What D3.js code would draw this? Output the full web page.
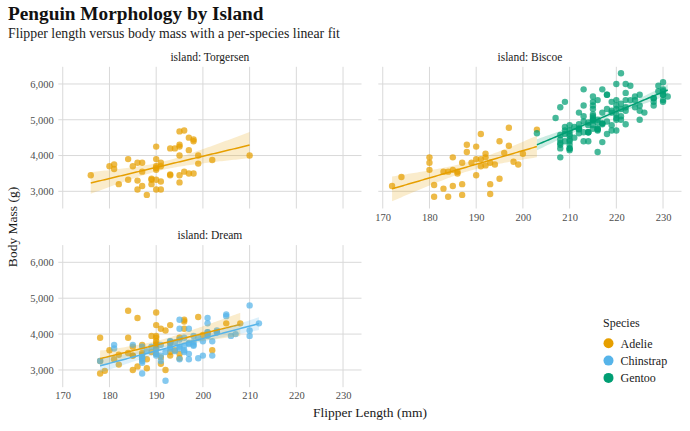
<!DOCTYPE html>
<html>
<head>
<meta charset="utf-8">
<script src="https://cdn.jsdelivr.net/npm/d3@7"></script>
<style>
  html, body { margin: 0; padding: 0; background: #ffffff; }
  svg { display: block; font-family: "Liberation Serif", "DejaVu Serif", serif; }
</style>
</head>
<body>
<svg id="chart" width="690" height="431"></svg>
<script>
// ---------------- DATA (flipper length mm, body mass g) ----------------
const adelieTorgersen = [
  [181,3750],[186,3800],[195,3250],[193,3450],[190,3650],[181,3625],[195,4675],[193,3475],[190,4250],[186,3300],
  [180,3700],[182,3200],[191,3800],[198,4400],[185,3700],[195,3450],[197,4500],[184,3325],[194,4200],
  [190,3050],[198,4450],[190,3600],[190,3900],[196,3550],[197,4150],[190,3700],[195,4250],[191,3700],[184,3900],
  [187,3550],[195,4000],[189,3200],[196,4700],[187,3800],[193,4200],
  [188,2900],[199,3775],[189,3350],[189,3325],[187,3150],[198,3500],[176,3450],[202,3875],[186,3050],[199,4000],
  [191,3275],[195,4300],[191,3050],[210,4000],[190,3325],[197,3500]
];
const adelieBiscoe = [
  [174,3400],[180,3600],[189,3800],[185,3950],[180,3800],[187,3800],[183,3550],[187,3200],[172,3150],[180,3950],
  [186,3500],[188,4300],[190,3450],[200,4050],[187,2900],[191,3700],[186,3550],[193,3800],[181,2850],[194,3750],
  [185,3150],[195,4400],[185,3600],[192,4050],[184,2850],[192,3950],[195,3350],[188,4100],
  [192,3725],[203,4725],[183,3075],[190,4250],[193,2925],[184,3550],[199,3750],[190,3900],[181,3175],[197,4775],
  [198,3825],[191,4600],[193,3200],[197,4275],[191,3900],[196,4075]
];
const adelieDream = [
  [178,3250],[178,3900],[188,3300],[184,3900],[195,3325],[196,4150],[190,3950],[180,3550],[181,3300],[184,4650],
  [182,3150],[195,3900],[186,3100],[196,4400],[185,3000],[190,4600],[182,3425],[179,2975],[190,3450],[191,4150],
  [191,3350],[194,3550],[190,3800],[189,3500],[189,3950],[190,3600],[202,3550],[205,4300],[185,3400],[186,4450],
  [187,3300],[208,4300],[190,3700],[196,4350],[178,2900],[192,4100],
  [193,3500],[199,4475],[187,3425],[190,3900],[191,3175],[200,3975],[185,3400],[193,4250],[193,3400],[187,3475],
  [188,3050],[190,3725],[192,3000],[185,3650],[190,4250],[184,3475],[195,3450],[193,3750],[187,3700],[201,4000]
];
const gentooBiscoe = [
  [211,4500],[230,5700],[210,4450],[218,5700],[215,5400],[210,4550],[211,4800],[219,5200],[209,4400],[215,5150],
  [214,4650],[216,5550],[214,4650],[213,5850],[210,4200],[217,5850],[210,4150],[221,6300],[209,4800],[222,5350],
  [218,5700],[215,5000],[213,4400],[215,5050],[215,5000],[215,5100],[216,4100],[215,5650],[210,4600],[220,5550],
  [222,5250],[209,4700],[207,5050],[230,6050],[220,5150],[220,5400],[213,4950],[219,5250],[208,4350],[208,5350],
  [208,3950],[225,5700],[210,4300],[216,4750],[222,5550],[217,4900],[210,4200],[225,5400],[213,5100],[215,5300],
  [210,4850],[220,5300],[210,4400],[225,5000],[217,4900],[220,5050],[208,4300],[220,5000],[208,4450],[224,5550],
  [208,4200],[221,5300],[214,4400],[231,5650],[219,4700],[230,5700],[214,4650],[229,5800],[220,4700],[223,5550],
  [216,4750],[221,5000],[221,5100],[217,5200],[216,4700],[230,5800],[209,4600],[220,6000],[215,4750],[223,5950],
  [212,4625],[221,5450],[212,4725],[224,5350],[212,4750],[228,5600],[218,4600],[218,5300],[212,4875],[230,5550],
  [218,4950],[228,5400],[212,4750],[224,5650],[214,4850],[226,5200],[216,4925],[222,4875],[203,4625],[225,5250],
  [219,4850],[228,5600],[215,4975],[228,5500],[216,4725],[215,5500],[210,4700],[219,5500],[208,4575],[209,5500],
  [216,5000],[229,5950],[213,4650],[230,5500],[217,4375],[230,5850],[217,4875],[222,6000],[214,4925],
  [215,4850],[222,5750],[212,5200],[213,5400]
];
const chinstrapDream = [
  [192,3500],[196,3900],[193,3650],[188,3525],[197,3725],[198,3950],[178,3250],[197,3750],[195,4150],[198,3700],
  [193,3800],[194,3775],[185,3700],[201,4050],[190,3575],[201,4050],[197,3300],[181,3700],[190,3450],[195,4400],
  [181,3600],[191,3400],[187,2900],[193,3800],[195,3300],[197,4150],[200,3400],[200,3800],[191,3700],[205,4550],
  [187,3200],[201,4300],[187,3350],[203,4100],[195,3600],[199,3900],[195,3850],[210,4800],[192,2700],[205,4500],
  [210,3950],[187,3650],[196,3550],[196,3500],[196,3675],[201,4450],[190,3400],[212,4300],[187,3250],[198,3675],
  [199,3325],[201,3950],[193,3600],[203,4050],[187,3350],[197,3450],[191,3250],[203,4050],[202,3800],[194,3525],
  [206,3950],[189,3650],[195,3650],[207,4000],[202,3400],[193,3775],[210,4100],[198,3775]
];

const islands = ["Torgersen", "Biscoe", "Dream"];
const speciesNames = ["Adelie", "Chinstrap", "Gentoo"];
const speciesColors = ["#E69F00", "#56B4E9", "#009E73"];
const xTicks = [170, 180, 190, 200, 210, 220, 230];
const yTicks = [3000, 4000, 5000, 6000];

// groups in drawing order (data order: Adelie, Gentoo, Chinstrap)
const groups = [
  { island: "Torgersen", species: "Adelie", data: adelieTorgersen },
  { island: "Biscoe", species: "Adelie", data: adelieBiscoe },
  { island: "Dream", species: "Adelie", data: adelieDream },
  { island: "Biscoe", species: "Gentoo", data: gentooBiscoe },
  { island: "Dream", species: "Chinstrap", data: chinstrapDream }
];

// ---------------- LAYOUT ----------------
const svg = d3.select("#chart");
const color = d3.scaleOrdinal().domain(speciesNames).range(speciesColors);

const allPts = groups.flatMap(g => g.data);
const xExt = d3.extent(allPts, d => d[0]);
const yExt = d3.extent(allPts, d => d[1]);
const xPad = (xExt[1] - xExt[0]) * 0.05, yPad = (yExt[1] - yExt[0]) * 0.05;
const xDomain = [xExt[0] - xPad, xExt[1] + xPad];
const yDomain = [yExt[0] - yPad, yExt[1] + yPad];

const colX = [[58.3, 361.5], [378.3, 681.5]];
const rowY = [[66.8, 208.5], [245.1, 387.2]];
const panels = [
  { island: "Torgersen", col: 0, row: 0, xLab: false, yLab: true },
  { island: "Biscoe", col: 1, row: 0, xLab: true, yLab: false },
  { island: "Dream", col: 0, row: 1, xLab: true, yLab: true }
];

const gridColor = "#d9d9d9";
const tickColor = "#4d4d4d";

// title & subtitle
svg.append("text").attr("x", 8).attr("y", 19.5)
  .attr("font-size", 19.3).attr("font-weight", "bold").attr("fill", "#111")
  .text("Penguin Morphology by Island");
svg.append("text").attr("x", 8).attr("y", 38)
  .attr("font-size", 13.8).attr("fill", "#222")
  .text("Flipper length versus body mass with a per-species linear fit");

function tQuant(df) {
  const z = 1.959964;
  const g1 = (z ** 3 + z) / 4;
  const g2 = (5 * z ** 5 + 16 * z ** 3 + 3 * z) / 96;
  const g3 = (3 * z ** 7 + 19 * z ** 5 + 17 * z ** 3 - 15 * z) / 384;
  return z + g1 / df + g2 / df ** 2 + g3 / df ** 3;
}

function fit(data) {
  const n = data.length;
  const mx = d3.mean(data, d => d[0]), my = d3.mean(data, d => d[1]);
  let sxx = 0, sxy = 0;
  data.forEach(d => { sxx += (d[0] - mx) ** 2; sxy += (d[0] - mx) * (d[1] - my); });
  const b = sxy / sxx, a = my - b * mx;
  let sse = 0;
  data.forEach(d => { sse += (d[1] - (a + b * d[0])) ** 2; });
  const s = Math.sqrt(sse / (n - 2));
  const t = tQuant(n - 2);
  const [x0, x1] = d3.extent(data, d => d[0]);
  const pts = d3.range(0, 81).map(i => {
    const x = x0 + (x1 - x0) * i / 80;
    const yhat = a + b * x;
    const se = s * Math.sqrt(1 / n + (x - mx) ** 2 / sxx);
    return { x, y: yhat, lo: yhat - t * se, hi: yhat + t * se };
  });
  return pts;
}

panels.forEach(p => {
  const [px0, px1] = colX[p.col];
  const [py0, py1] = rowY[p.row];
  const x = d3.scaleLinear().domain(xDomain).range([px0, px1]);
  const y = d3.scaleLinear().domain(yDomain).range([py1, py0]);
  const g = svg.append("g");

  // gridlines
  g.selectAll(".gx").data(xTicks).enter().append("line")
    .attr("x1", d => x(d)).attr("x2", d => x(d)).attr("y1", py0).attr("y2", py1)
    .attr("stroke", gridColor).attr("stroke-width", 1);
  g.selectAll(".gy").data(yTicks).enter().append("line")
    .attr("x1", px0).attr("x2", px1).attr("y1", d => y(d)).attr("y2", d => y(d))
    .attr("stroke", gridColor).attr("stroke-width", 1);

  // strip label
  g.append("text").attr("x", (px0 + px1) / 2).attr("y", py0 - 5.8)
    .attr("text-anchor", "middle").attr("font-size", 11.5).attr("fill", "#1a1a1a")
    .text("island: " + p.island);

  // axes
  if (p.xLab) {
    const ax = g.append("g").attr("transform", `translate(0,${py1})`)
      .call(d3.axisBottom(x).tickValues(xTicks).tickSize(0).tickPadding(12).tickFormat(d3.format("d")));
    ax.select(".domain").remove();
    ax.selectAll("text").attr("font-size", 10.5).attr("fill", tickColor)
      .attr("font-family", "Liberation Serif, serif").attr("dy", 0);
  }
  if (p.yLab) {
    const ay = g.append("g").attr("transform", `translate(${px0},0)`)
      .call(d3.axisLeft(y).tickValues(yTicks).tickSize(0).tickPadding(4.5).tickFormat(d3.format(",")));
    ay.select(".domain").remove();
    ay.selectAll("text").attr("font-size", 10.5).attr("fill", tickColor)
      .attr("font-family", "Liberation Serif, serif");
  }

  const pg = groups.filter(gr => gr.island === p.island);
  // points
  pg.forEach(gr => {
    g.append("g").selectAll("circle").data(gr.data).enter().append("circle")
      .attr("cx", d => x(d[0])).attr("cy", d => y(d[1])).attr("r", 3.2)
      .attr("fill", color(gr.species)).attr("fill-opacity", 0.72);
  });
  // smooths
  pg.forEach(gr => {
    const f = fit(gr.data);
    g.append("path").datum(f)
      .attr("d", d3.area().x(d => x(d.x)).y0(d => y(d.lo)).y1(d => y(d.hi)))
      .attr("fill", color(gr.species)).attr("fill-opacity", 0.2);
    g.append("path").datum(f)
      .attr("d", d3.line().x(d => x(d.x)).y(d => y(d.y)))
      .attr("fill", "none").attr("stroke", color(gr.species)).attr("stroke-width", 1.5);
  });
});

// axis titles
svg.append("text").attr("x", (colX[0][0] + colX[1][1]) / 2).attr("y", 417)
  .attr("text-anchor", "middle").attr("font-size", 13.5).attr("fill", "#1a1a1a")
  .text("Flipper Length (mm)");
svg.append("text")
  .attr("transform", `translate(17,${(rowY[0][0] + rowY[1][1]) / 2}) rotate(-90)`)
  .attr("text-anchor", "middle").attr("font-size", 13.5).attr("fill", "#1a1a1a")
  .text("Body Mass (g)");

// legend
const lg = svg.append("g").attr("transform", "translate(603,0)");
lg.append("text").attr("x", 0).attr("y", 327).attr("font-size", 12).attr("fill", "#1a1a1a").text("Species");
const items = lg.selectAll(".li").data(speciesNames).enter().append("g")
  .attr("transform", (d, i) => `translate(0,${343.3 + i * 17.3})`);
items.append("circle").attr("cx", 5.5).attr("cy", 0).attr("r", 5)
  .attr("fill", d => color(d));
items.append("text").attr("x", 17.5).attr("y", 4.2).attr("font-size", 12).attr("fill", "#1a1a1a").text(d => d);
</script>
</body>
</html>
